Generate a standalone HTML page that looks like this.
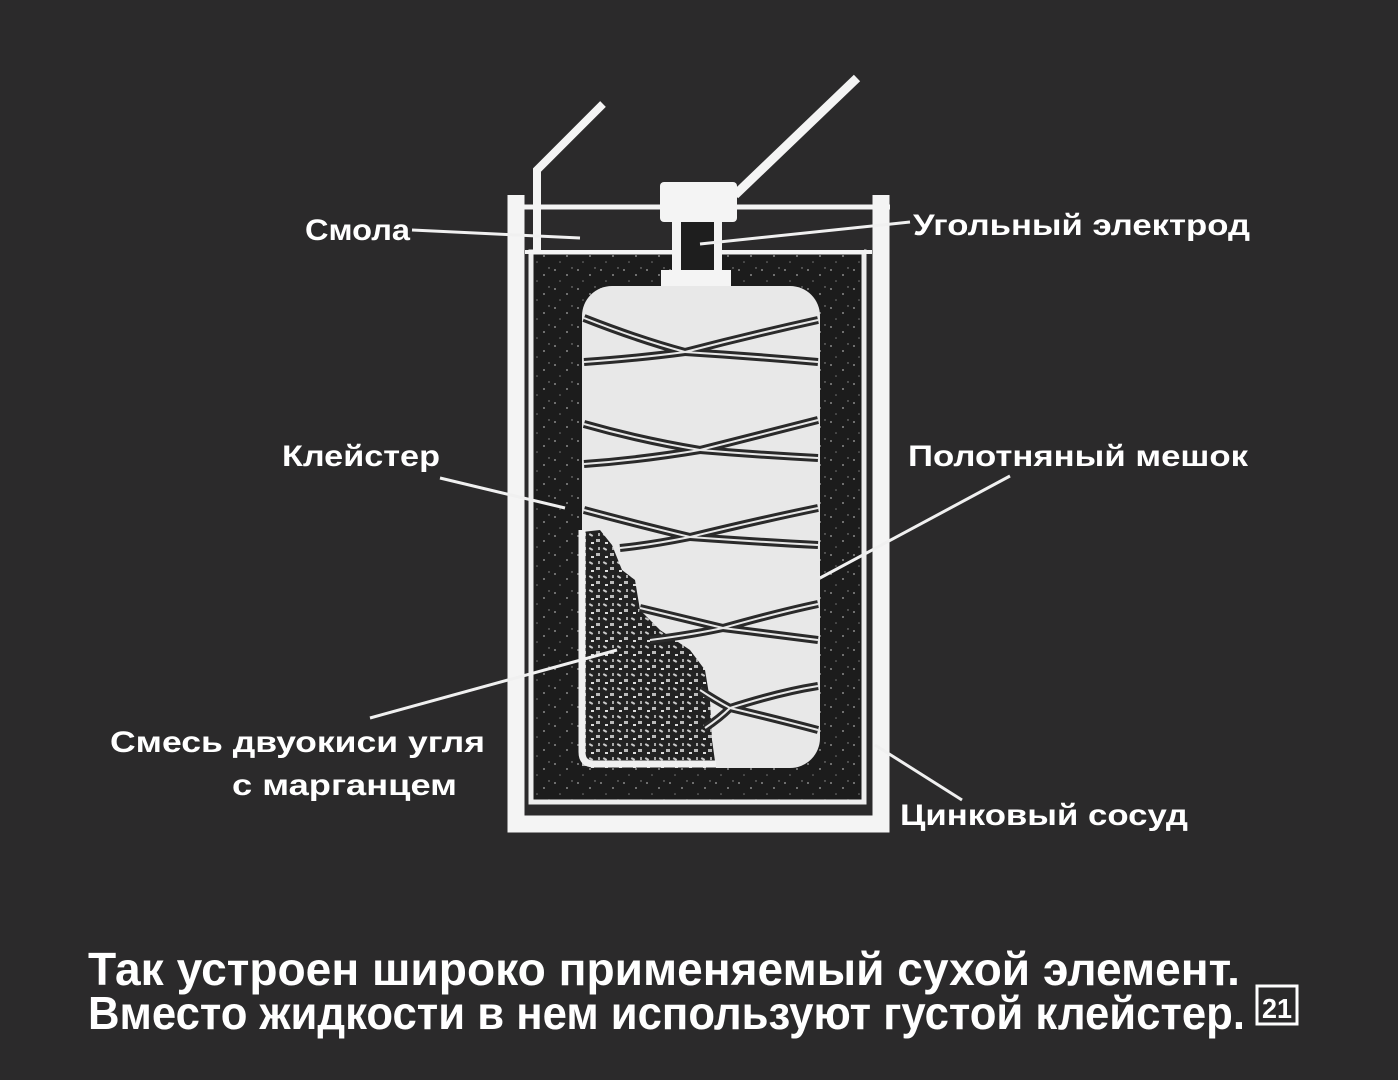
<!DOCTYPE html>
<html><head><meta charset="utf-8"><style>
html,body{margin:0;padding:0;background:#2b2a2b;}
svg{display:block;}
text{font-family:"Liberation Sans","DejaVu Sans",sans-serif;font-weight:bold;fill:#fff;}
</style></head><body>
<svg width="1398" height="1080" viewBox="0 0 1398 1080" xmlns="http://www.w3.org/2000/svg">
<defs>
<pattern id="sp" width="23" height="19" patternUnits="userSpaceOnUse">
<rect width="23" height="19" fill="#1c1c1c"/>
<circle cx="3" cy="4" r="1" fill="#888"/><circle cx="15" cy="9" r="0.9" fill="#aaa"/><circle cx="8" cy="15" r="0.8" fill="#777"/><circle cx="20" cy="2" r="0.7" fill="#999"/>
</pattern>
<pattern id="mx" width="14" height="14" patternUnits="userSpaceOnUse">
<rect width="14" height="14" fill="#222"/>
<rect x="1" y="2" width="4" height="2" fill="#ccc" transform="rotate(30 3 3)"/><rect x="8" y="7" width="4" height="3" fill="#bbb"/><rect x="3" y="10" width="3" height="2" fill="#ddd"/><rect x="10" y="1" width="2" height="3" fill="#aaa"/>
</pattern>
</defs>
<rect width="1398" height="1080" fill="#2b2a2b"/>
<path d="M516 195 V824 H881 V195" fill="none" stroke="#f4f4f4" stroke-width="17"/>
<rect x="531" y="252" width="333" height="550" fill="url(#sp)" stroke="#eee" stroke-width="5"/>
<rect x="533" y="215" width="331" height="35" fill="#2b2a2b"/>
<line x1="508" y1="207" x2="890" y2="207" stroke="#f4f4f4" stroke-width="5"/>
<line x1="525" y1="252" x2="872" y2="252" stroke="#f4f4f4" stroke-width="4"/>
<polyline points="537,252 537,170 603,104" fill="none" stroke="#f4f4f4" stroke-width="8"/>
<line x1="735" y1="195" x2="857" y2="78" stroke="#f4f4f4" stroke-width="9"/>
<rect x="660" y="182" width="77" height="40" rx="4" fill="#f4f4f4"/>
<rect x="672" y="220" width="50" height="56" fill="#f4f4f4"/>
<rect x="681" y="222" width="33" height="48" fill="#1e1e1e"/>
<rect x="661" y="270" width="70" height="16" fill="#f4f4f4"/>
<rect x="582" y="286" width="238" height="482" rx="30" fill="#e8e8e8"/>
<path d="M582 532 L600 530 L612 545 L622 570 L635 580 L640 610 L660 630 L690 650 L705 670 L710 700 L712 740 L716 768 L582 768 Z" fill="url(#mx)"/>
<path d="M582 530 V752 Q582 764 594 764 H716" fill="none" stroke="#f0f0f0" stroke-width="7"/>
<g fill="none" stroke="#2a2a2a" stroke-width="8">
<path d="M584 318 Q640 340 685 352 Q750 356 818 362"/><path d="M584 362 Q640 358 685 352 Q750 335 818 320"/>
<path d="M584 424 Q640 440 700 450 Q760 455 818 458"/><path d="M584 464 Q640 460 700 450 Q760 435 818 420"/>
<path d="M584 510 Q640 525 690 537 Q760 542 818 545"/><path d="M620 548 Q650 545 690 537 Q760 520 818 508"/>
<path d="M640 608 Q690 620 723 628 Q780 635 818 640"/><path d="M650 640 Q690 635 723 628 Q780 612 818 604"/>
<path d="M700 690 Q715 700 730 708 Q780 720 818 730"/><path d="M705 728 Q720 718 730 708 Q780 692 818 686"/>
</g>
<g fill="none" stroke="#e8e8e8" stroke-width="2">
<path d="M584 318 Q640 340 685 352 Q750 356 818 362"/><path d="M584 362 Q640 358 685 352 Q750 335 818 320"/>
<path d="M584 424 Q640 440 700 450 Q760 455 818 458"/><path d="M584 464 Q640 460 700 450 Q760 435 818 420"/>
<path d="M584 510 Q640 525 690 537 Q760 542 818 545"/><path d="M620 548 Q650 545 690 537 Q760 520 818 508"/>
<path d="M640 608 Q690 620 723 628 Q780 635 818 640"/><path d="M650 640 Q690 635 723 628 Q780 612 818 604"/>
<path d="M700 690 Q715 700 730 708 Q780 720 818 730"/><path d="M705 728 Q720 718 730 708 Q780 692 818 686"/>
</g>
<g stroke="#f0f0f0" stroke-width="3">
<line x1="412" y1="230" x2="580" y2="238"/>
<line x1="700" y1="244" x2="910" y2="222"/>
<line x1="440" y1="478" x2="565" y2="508"/>
<line x1="1010" y1="476" x2="820" y2="578"/>
<line x1="370" y1="718" x2="617" y2="650"/>
<line x1="962" y1="800" x2="875" y2="745"/>
</g>
<g font-size="30">
<text x="305" y="240" textLength="105" lengthAdjust="spacingAndGlyphs">Смола</text>
<text x="913" y="235" textLength="337" lengthAdjust="spacingAndGlyphs">Угольный электрод</text>
<text x="282" y="466" textLength="158" lengthAdjust="spacingAndGlyphs">Клейстер</text>
<text x="908" y="466" textLength="340" lengthAdjust="spacingAndGlyphs">Полотняный мешок</text>
<text x="110" y="752" textLength="375" lengthAdjust="spacingAndGlyphs">Смесь двуокиси угля</text>
<text x="232" y="795" textLength="225" lengthAdjust="spacingAndGlyphs">с марганцем</text>
<text x="900" y="825" textLength="288" lengthAdjust="spacingAndGlyphs">Цинковый сосуд</text>
</g>
<g font-size="46">
<text x="88" y="985" textLength="1152" lengthAdjust="spacingAndGlyphs">Так устроен широко применяемый сухой элемент.</text>
<text x="88" y="1029" textLength="1157" lengthAdjust="spacingAndGlyphs">Вместо жидкости в нем используют густой клейстер.</text>
</g>
<rect x="1257" y="986" width="40" height="38" fill="none" stroke="#fff" stroke-width="3"/>
<text x="1262" y="1018" font-size="28" textLength="30" lengthAdjust="spacingAndGlyphs">21</text>
</svg>
</body></html>
